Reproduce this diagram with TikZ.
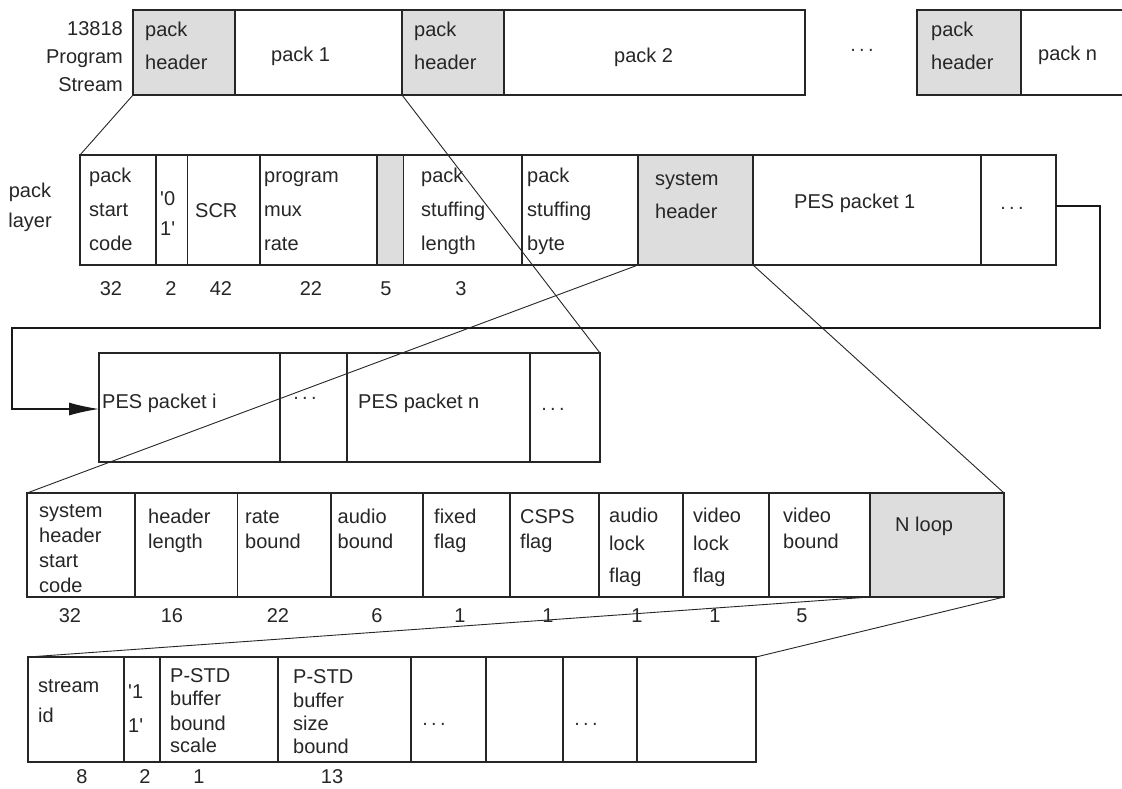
\documentclass[tikz,border=0pt]{standalone}
\usepackage{fontspec}
\setmainfont{Liberation Sans}
\usetikzlibrary{arrows.meta}
\definecolor{shade}{RGB}{221,221,221}
\newcommand{\cellbox}[6][]{\node[cellst,#1,anchor=north west,minimum width={#4-#3},minimum height={#6-#5}] (#2) at (#3,#5) {};}
\newcommand{\txtlines}[3]{\foreach \yy/\ttxt [count=\i] in {#3} {\node[lbl] (#1-\i) at (#2,\yy) {\ttxt};}}
\newcommand{\rtlines}[3]{\foreach \yy/\ttxt [count=\i] in {#3} {\node[lbl,anchor=base east] (#1-\i) at (#2,\yy) {\ttxt};}}
\newcommand{\numlab}[4]{\node[num] (#1) at (#2,#3) {#4};}
\newcommand{\dotsl}{.\,.\,.}
\begin{document}
\begin{tikzpicture}[x=1pt,y=-1pt,
  cellst/.style={draw=black!85,line width=1.2pt,inner sep=0pt,outer sep=0pt,fill=white},
  shade/.style={fill=shade},
  lbl/.style={anchor=base west,inner sep=0pt,font=\fontsize{20}{24}\selectfont,text=black!85},
  num/.style={anchor=base,inner sep=0pt,font=\fontsize{20}{24}\selectfont,text=black!85},
  dotn/.style={inner sep=0pt,font=\fontsize{20}{24}\selectfont,text=black!80},
  conn/.style={draw=black!85,line width=0.9pt},
  loopline/.style={draw=black!90,line width=1.2pt}]
\useasboundingbox (0,0) rectangle (1122,788);
\fill[white] (0,0) rectangle (1122,788);

% row 1: program stream
\cellbox[shade]{ph1}{133}{235}{10}{95}
\cellbox{p1}{235}{402}{10}{95}
\cellbox[shade]{ph2}{402}{504}{10}{95}
\cellbox{p2}{504}{805}{10}{95}
\cellbox[shade]{phn}{917}{1021}{10}{95}
\cellbox{pn}{1021}{1135}{10}{95}
\rtlines{ps}{123}{35/13818,63/Program,91/Stream}
\txtlines{tph1}{145}{36/pack,69/header}
\txtlines{tp1}{271}{61/pack 1}
\txtlines{tph2}{414}{36/pack,69/header}
\txtlines{tp2}{614}{62/pack 2}
\node[dotn] (d1) at (862,50) {\dotsl};
\txtlines{tphn}{931}{36/pack,69/header}
\txtlines{tpn}{1038}{60/pack n}

% row 2: pack layer
\cellbox{pl1}{80}{156}{155}{265}
\cellbox{pl2}{156}{187.5}{155}{265}
\cellbox{pl3}{187.5}{260}{155}{265}
\cellbox{pl4}{260}{377}{155}{265}
\cellbox[shade]{pl5}{377}{403.6}{155}{265}
\cellbox{pl6}{403.6}{522}{155}{265}
\cellbox{pl7}{522}{638}{155}{265}
\cellbox[shade]{pl8}{638}{753}{155}{265}
\cellbox{pl9}{753}{981}{155}{265}
\cellbox{pl10}{981}{1056}{155}{265}
\node[lbl,anchor=base] (layA) at (30,197) {pack};
\node[lbl,anchor=base] (layB) at (30,227) {layer};
\txtlines{tpl1}{89}{182/pack,216/start,250/code}
\txtlines{tpl2}{160}{205/\textquotesingle 0,235/1\textquotesingle}
\txtlines{tpl3}{195}{217/SCR}
\txtlines{tpl4}{264}{182/program,216/mux,250/rate}
\txtlines{tpl6}{421}{182/pack,216/stuffing,250/length}
\txtlines{tpl7}{527}{182/pack,216/stuffing,250/byte}
\txtlines{tpl8}{655}{185/system,218/header}
\txtlines{tpl9}{794}{208/PES packet 1}
\node[dotn] (d2) at (1012,208) {\dotsl};
\numlab{n21}{111}{295}{32}
\numlab{n22}{171}{295}{2}
\numlab{n23}{221}{295}{42}
\numlab{n24}{311}{295}{22}
\numlab{n25}{386}{295}{5}
\numlab{n26}{461}{295}{3}

% row 3
\cellbox{r31}{99}{280}{353}{462}
\cellbox{r32}{280}{347}{353}{462}
\cellbox{r33}{347}{530}{353}{462}
\cellbox{r34}{530}{600}{353}{462}
\txtlines{tr31}{102}{408/PES packet i}
\node[dotn] (d3) at (305,398) {\dotsl};
\txtlines{tr33}{358}{408/PES packet n}
\node[dotn] (d4) at (553,409) {\dotsl};

% row 4: system header
\cellbox{r41}{27}{135}{493}{597}
\cellbox{r42}{135}{237.5}{493}{597}
\cellbox{r43}{237.5}{331}{493}{597}
\cellbox{r44}{331}{423}{493}{597}
\cellbox{r45}{423}{510}{493}{597}
\cellbox{r46}{510}{599}{493}{597}
\cellbox{r47}{599}{683}{493}{597}
\cellbox{r48}{683}{769}{493}{597}
\cellbox{r49}{769}{870}{493}{597}
\cellbox[shade]{r410}{870}{1004}{493}{597}
\txtlines{tr41}{39}{517/system,542/header,567/start,592/code}
\txtlines{tr42}{148}{523/header,548/length}
\txtlines{tr43}{245}{523/rate,548/bound}
\txtlines{tr44}{337.5}{523/audio,548/bound}
\txtlines{tr45}{434}{523/fixed,548/flag}
\txtlines{tr46}{520}{523/CSPS,548/flag}
\txtlines{tr47}{609}{522/audio,550/lock,582/flag}
\txtlines{tr48}{693}{522/video,550/lock,582/flag}
\txtlines{tr49}{783}{522/video,548/bound}
\txtlines{tr410}{895}{531/N loop}
\numlab{n41}{70}{622}{32}
\numlab{n42}{172}{622}{16}
\numlab{n43}{278}{622}{22}
\numlab{n44}{377}{622}{6}
\numlab{n45}{460}{622}{1}
\numlab{n46}{548}{622}{1}
\numlab{n47}{637}{622}{1}
\numlab{n48}{715}{622}{1}
\numlab{n49}{802}{622}{5}

% row 5: N loop
\cellbox{r51}{28}{124}{657}{762}
\cellbox{r52}{124}{160}{657}{762}
\cellbox{r53}{160}{278}{657}{762}
\cellbox{r54}{278}{411}{657}{762}
\cellbox{r55}{411}{486}{657}{762}
\cellbox{r56}{486}{563}{657}{762}
\cellbox{r57}{563}{637}{657}{762}
\cellbox{r58}{637}{756}{657}{762}
\txtlines{tr51}{38}{692/stream,722/id}
\txtlines{tr52}{128}{698/\textquotesingle 1,732/1\textquotesingle}
\txtlines{tr53}{170}{682/P-STD,705/buffer,730/bound,752/scale}
\txtlines{tr54}{293}{683/P-STD,707/buffer,730/size,753/bound}
\node[dotn] (d5) at (434,724) {\dotsl};
\node[dotn] (d6) at (586,724) {\dotsl};
\numlab{n51}{82}{783}{8}
\numlab{n52}{145}{783}{2}
\numlab{n53}{199}{783}{1}
\numlab{n54}{332}{783}{13}

% ---------- connectors ----------
\draw[conn] (ph1.south west) -- (pl1.north west);
\draw[conn] (ph2.south west) -- (r34.north east);
\draw[conn] (pl8.south west) -- (r41.north west);
\draw[conn] (pl8.south east) -- (r410.north east);
\draw[conn] (r410.south west) -- (r51.north west);
\draw[conn] (r410.south east) -- (r58.north east);
\coordinate (c1) at (1100,328);
\coordinate (c2) at (12,328);
\draw[loopline,-{Latex[length=30pt,width=13pt]}] ([yshift=4pt]pl10.east) -| (c1) -- (c2) |- ([yshift=-1.5pt]r31.west);
\end{tikzpicture}
\end{document}
